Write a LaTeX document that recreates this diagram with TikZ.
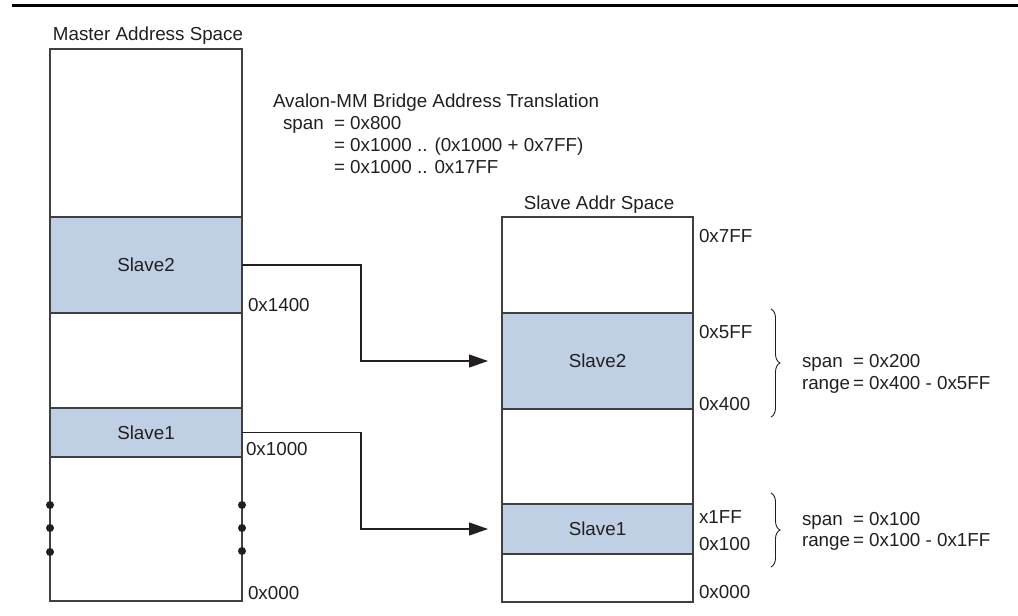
\documentclass[tikz,border=0pt]{standalone}
\usepackage{fontspec}
\setmainfont{Liberation Sans}
\usetikzlibrary{arrows.meta,decorations.pathreplacing}
\definecolor{ink}{RGB}{35,31,32}
\definecolor{edgegray}{RGB}{64,64,64}
\definecolor{slavefill}{RGB}{191,207,228}
\begin{document}
\begin{tikzpicture}[x=1pt,y=-1pt,
  lbl/.style={font=\fontsize{18.8}{22.5}\selectfont, text=ink, inner sep=0pt, outer sep=0pt, anchor=base west},
  region/.style={draw=edgegray, line width=1.3pt, inner sep=0pt, outer sep=0pt, fill=white,
                 font=\fontsize{18.8}{22.5}\selectfont, text=ink},
  slavereg/.style={region, fill=slavefill},
  conn/.style={draw=ink, line width=1.2pt, -{Triangle[length=19pt,width=13pt]}, shorten >=14pt},
  blob/.style={circle, fill=ink, inner sep=0pt, minimum size=8pt},
  brc/.style={draw=ink, line width=0.9pt, decorate, decoration={brace, amplitude=9pt}},
]
\useasboundingbox (0,0) rectangle (1018,616);
% top rule
\draw[line width=2.5pt, black] (12,5.3) -- (1018,5.3);

% master address space
\node[lbl, anchor=base] (mtitle) at (148,40) {Master Address Space};
\node[region, minimum width=192pt, minimum height=552pt] (master) at (146,325) {};
\node[slavereg, minimum width=192pt, minimum height=96pt] (mS2) at (146,265) {Slave2};
\node[slavereg, minimum width=192pt, minimum height=49pt] (mS1) at (146,432.5) {Slave1};
\node[blob] (dl1) at (50,505) {};
\node[blob] (dl2) at (50,528) {};
\node[blob] (dl3) at (50,552) {};
\node[blob] (dr1) at (242,505) {};
\node[blob] (dr2) at (242,528) {};
\node[blob] (dr3) at (242,551) {};
\node[lbl] (m1400) at (248,311) {0x1400};
\node[lbl] (m1000) at (246,455) {0x1000};
\node[lbl] (m000) at (248,599) {0x000};

% translation text
\node[lbl] (a1) at (273,107) {Avalon-MM Bridge Address Translation};
\node[lbl] (a2s) at (283,129) {span};
\node[lbl] (a2) at (334,129) {= 0x800};
\node[lbl] (a3) at (334,151) {= 0x1000 .. (0x1000 + 0x7FF)};
\node[lbl] (a4) at (334,173) {= 0x1000 .. 0x17FF};

% slave address space
\node[lbl, anchor=base] (stitle) at (599,209) {Slave Addr Space};
\node[region, minimum width=191pt, minimum height=385pt] (slave) at (597.5,409.5) {};
\node[slavereg, minimum width=191pt, minimum height=96pt] (sS2) at (597.5,361) {Slave2};
\node[slavereg, minimum width=191pt, minimum height=50pt] (sS1) at (597.5,529) {Slave1};
\node[lbl] (s7ff) at (699,242) {0x7FF};
\node[lbl] (s5ff) at (699,338) {0x5FF};
\node[lbl] (s400) at (699,410) {0x400};
\node[lbl] (s1ff) at (699,523) {x1FF};
\node[lbl] (s100) at (699,550) {0x100};
\node[lbl] (s000) at (699,598) {0x000};

% connectors
\draw[conn] (mS2.east) -- ++(119,0) |- (sS2.west);
\draw[conn] (mS1.east) -- ++(119,0) |- (sS1.west);

% braces
\coordinate (b2t) at (771,309);
\coordinate (b2b) at (771,417);
\coordinate (b1t) at (771,493);
\coordinate (b1b) at (771,567);
\draw[brc] (b2t) -- (b2b);
\draw[brc] (b1t) -- (b1b);
\node[lbl] (r2a) at (802,367) {span};
\node[lbl] (r2b) at (853,367) {= 0x200};
\node[lbl] (r2c) at (802,389) {range};
\node[lbl] (r2d) at (853,389) {= 0x400 - 0x5FF};
\node[lbl] (r1a) at (802,525) {span};
\node[lbl] (r1b) at (853,525) {= 0x100};
\node[lbl] (r1c) at (802,546) {range};
\node[lbl] (r1d) at (853,546) {= 0x100 - 0x1FF};
\end{tikzpicture}
\end{document}
